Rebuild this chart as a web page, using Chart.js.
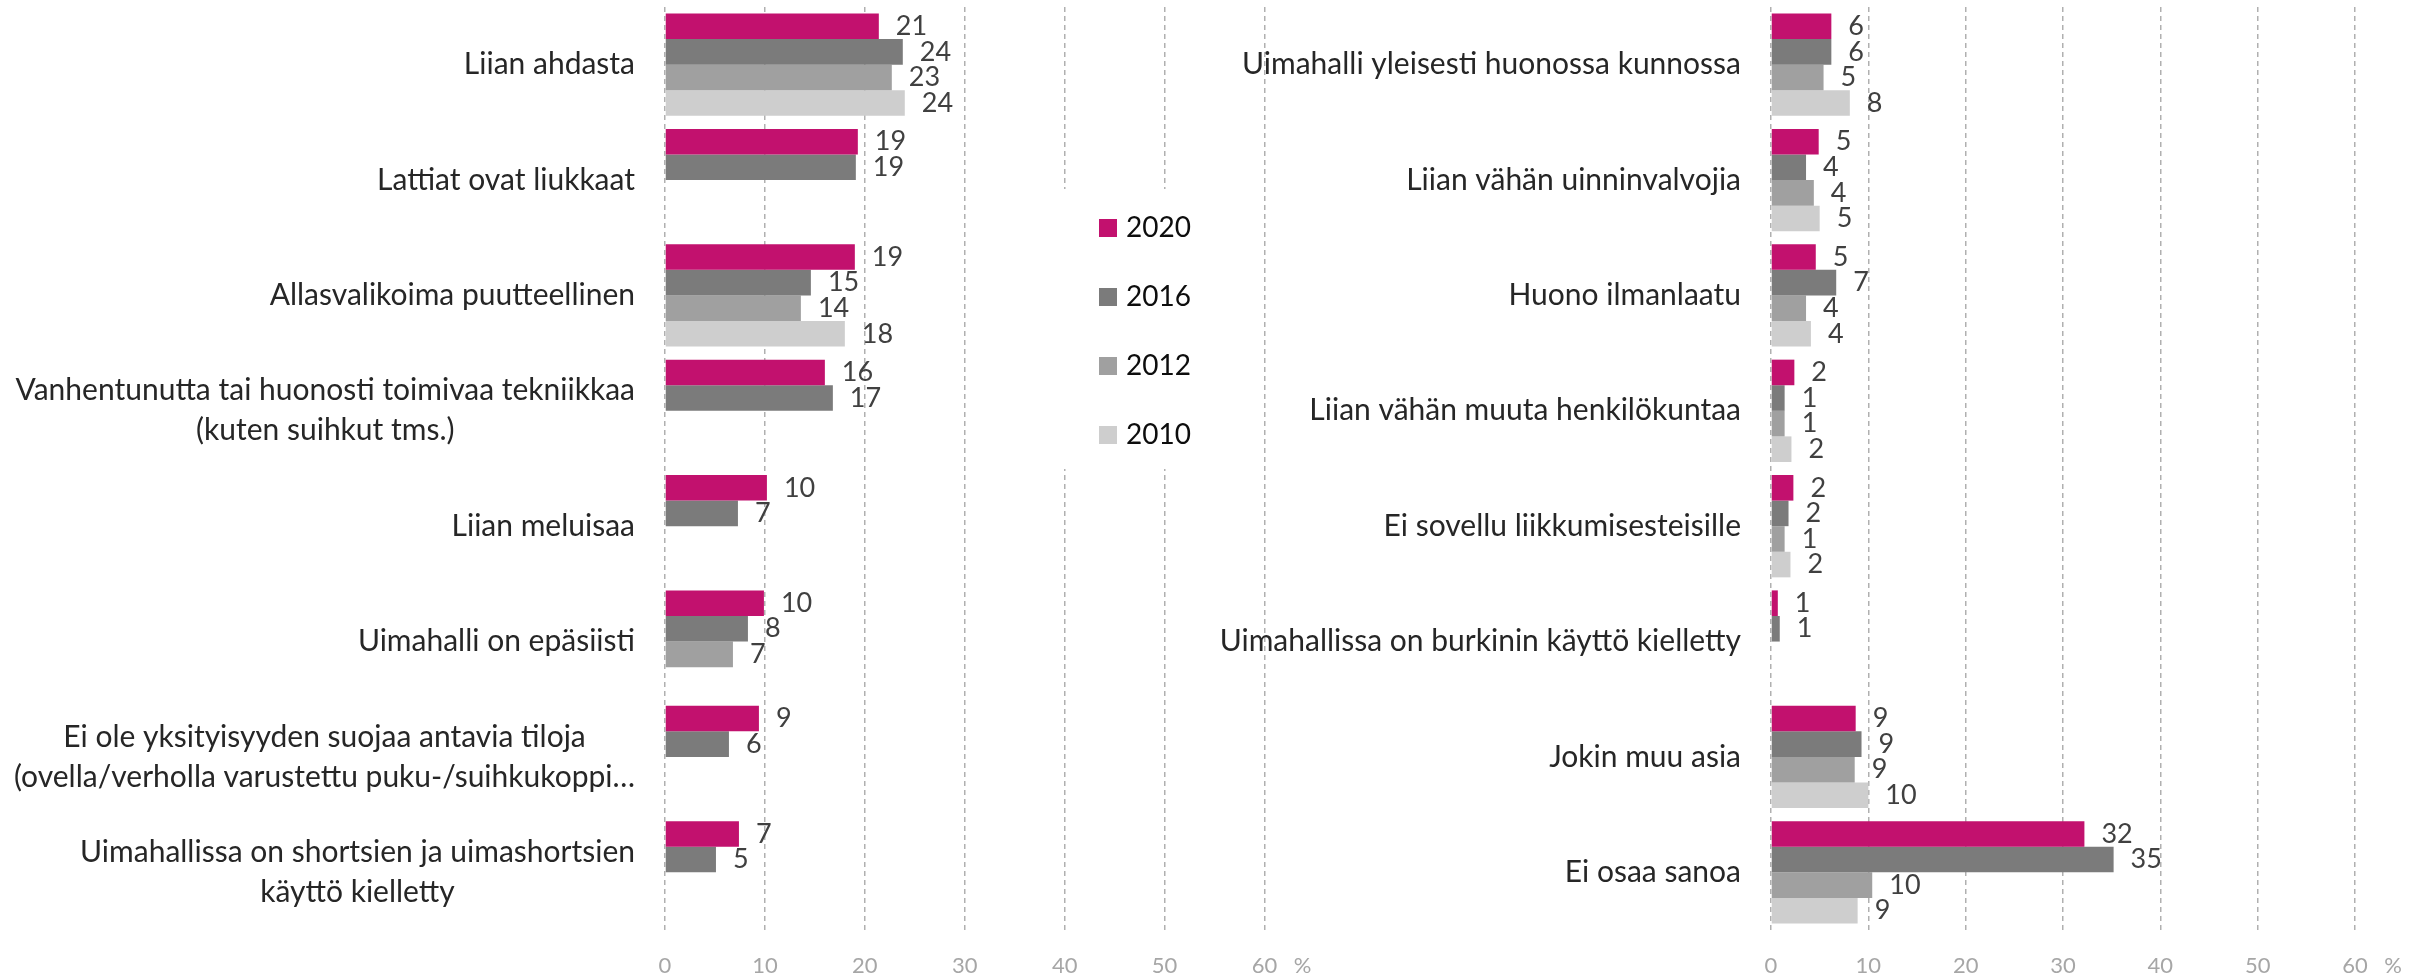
<!DOCTYPE html>
<html lang="fi">
<head>
<meta charset="utf-8">
<title>Uimahallien puutteet</title>
<script src="https://cdn.jsdelivr.net/npm/chart.js@4.4.1/dist/chart.umd.min.js"></script>
<style>
    html, body { margin: 0; padding: 0; background: #ffffff; }
    body { width: 2425px; height: 980px; position: relative; overflow: hidden; }
    canvas { position: absolute; top: 0; }
    #leftChart { left: 0; }
    #rightChart { left: 1200px; }
</style>
</head>
<body>
<canvas id="leftChart" width="1340" height="980"></canvas>
<canvas id="rightChart" width="1225" height="980"></canvas>
<script>
// Vuodet ja värit
const years = ["2020", "2016", "2012", "2010"];
const yearColors = ["#C2116E", "#7B7B7B", "#A0A0A0", "#CECECE"];

// x-akselin jaot (%)
const xTicks = [0, 10, 20, 30, 40, 50, 60];
const unitLabel = "%";

// Vasen paneeli
const leftLabels = [
    ["Liian ahdasta"],
    ["Lattiat ovat liukkaat"],
    ["Allasvalikoima puutteellinen"],
    ["Vanhentunutta tai huonosti toimivaa tekniikkaa", "(kuten suihkut tms.)"],
    ["Liian meluisaa"],
    ["Uimahalli on epäsiisti"],
    ["Ei ole yksityisyyden suojaa antavia tiloja", "(ovella/verholla varustettu puku-/suihkukoppi…"],
    ["Uimahallissa on shortsien ja uimashortsien", "käyttö kielletty"]
];
const left2020 = [21.4, 19.3, 19.0, 16.0, 10.2, 9.9, 9.4, 7.4];
const left2016 = [23.8, 19.1, 14.6, 16.8, 7.3, 8.3, 6.4, 5.1];
const left2012 = [22.7, null, 13.6, null, null, 6.8, null, null];
const left2010 = [24.0, null, 18.0, null, null, null, null, null];

// Oikea paneeli
const rightLabels = [
    ["Uimahalli yleisesti huonossa kunnossa"],
    ["Liian vähän uinninvalvojia"],
    ["Huono ilmanlaatu"],
    ["Liian vähän muuta henkilökuntaa"],
    ["Ei sovellu liikkumisesteisille"],
    ["Uimahallissa on burkinin käyttö kielletty"],
    ["Jokin muu asia"],
    ["Ei osaa sanoa"]
];
const right2020 = [6.2, 4.9, 4.6, 2.4, 2.3, 0.7, 8.7, 32.2];
const right2016 = [6.2, 3.6, 6.7, 1.4, 1.8, 0.9, 9.3, 35.2];
const right2012 = [5.4, 4.4, 3.6, 1.4, 1.4, null, 8.6, 10.4];
const right2010 = [8.1, 5.0, 4.1, 2.1, 2.0, null, 10.0, 8.9];

const FONT = "Lato, 'Open Sans', sans-serif";

// Kategorioiden nimet: rivit keskitetään lohkona, lohko tasataan akselia vasten
const categoryLabelPlugin = {
    id: "categoryLabels",
    afterDraw(chart) {
        const ctx = chart.ctx;
        const yScale = chart.scales.y;
        const right = chart.chartArea.left - 30;
        ctx.save();
        ctx.font = "30px " + FONT;
        ctx.fillStyle = "#262626";
        ctx.textAlign = "center";
        ctx.textBaseline = "middle";
        chart.data.labels.forEach(function(lines, i) {
            const y = yScale.getPixelForTick(i);
            const w = Math.max.apply(null, lines.map(l => ctx.measureText(l).width));
            const cx = right - w / 2;
            lines.forEach(function(line, j) {
                ctx.fillText(line, cx, y + (j - (lines.length - 1) / 2) * 40);
            });
        });
        ctx.restore();
    }
};

// Arvot palkkien perään
const valueLabelPlugin = {
    id: "valueLabels",
    afterDatasetsDraw(chart) {
        const ctx = chart.ctx;
        ctx.save();
        ctx.font = "27px " + FONT;
        ctx.fillStyle = "#404040";
        ctx.textAlign = "left";
        ctx.textBaseline = "middle";
        chart.data.datasets.forEach(function(ds, di) {
            const meta = chart.getDatasetMeta(di);
            meta.data.forEach(function(bar, i) {
                const v = ds.data[i];
                if (v === null || v === undefined) return;
                ctx.fillText(String(Math.round(v)), bar.x + 17, bar.y);
            });
        });
        ctx.restore();
    }
};

// "%" viimeisen jaon perään
const unitPlugin = {
    id: "unitLabel",
    afterDraw(chart) {
        const ctx = chart.ctx;
        const xScale = chart.scales.x;
        ctx.save();
        ctx.font = "22px " + FONT;
        ctx.fillStyle = "#A6A6A6";
        ctx.textAlign = "center";
        ctx.textBaseline = "middle";
        ctx.fillText(unitLabel, xScale.getPixelForValue(xTicks[xTicks.length - 1]) + 38, 966);
        ctx.restore();
    }
};

// Selite paneelien välissä (valkoinen tausta katkaisee apuviivat)
const yearLegendPlugin = {
    id: "yearLegend",
    afterDraw(chart) {
        const ctx = chart.ctx;
        ctx.save();
        ctx.fillStyle = "#ffffff";
        ctx.fillRect(1040, 189, 190, 280);
        ctx.font = "28px " + FONT;
        ctx.textAlign = "left";
        ctx.textBaseline = "middle";
        years.forEach(function(year, i) {
            const top = 219 + i * 69;
            ctx.fillStyle = yearColors[i];
            ctx.fillRect(1099, top, 18, 18);
            ctx.fillStyle = "#0D0D0D";
            ctx.fillText(year, 1126, top + 9);
        });
        ctx.restore();
    }
};

function makeChart(canvasId, labels, series, axisWidth, padRight, extraPlugins) {
    const datasets = series.map(function(values, i) {
        return {
            label: years[i],
            data: values,
            backgroundColor: yearColors[i],
            borderWidth: 0,
            categoryPercentage: 0.887,
            barPercentage: 1.0
        };
    });
    return new Chart(document.getElementById(canvasId), {
        type: "bar",
        data: { labels: labels, datasets: datasets },
        options: {
            indexAxis: "y",
            responsive: false,
            animation: false,
            devicePixelRatio: 1,
            layout: { padding: { top: 7, right: padRight, bottom: 0, left: 0 } },
            plugins: {
                legend: { display: false },
                tooltip: { enabled: false }
            },
            scales: {
                x: {
                    min: xTicks[0],
                    max: xTicks[xTicks.length - 1],
                    ticks: {
                        stepSize: xTicks[1] - xTicks[0],
                        color: "#A6A6A6",
                        font: { family: FONT, size: 22 },
                        padding: 23
                    },
                    grid: { color: "#B0B0B0", lineWidth: 1.5, drawTicks: false },
                    border: { display: false, dash: [5, 4] },
                    afterFit: function(scale) { scale.height = 50; }
                },
                y: {
                    ticks: { display: false },
                    grid: { display: false },
                    border: { display: false },
                    afterFit: function(scale) { scale.width = axisWidth; }
                }
            }
        },
        plugins: [categoryLabelPlugin, valueLabelPlugin, unitPlugin].concat(extraPlugins)
    });
}

document.addEventListener("DOMContentLoaded", function() {
    makeChart("leftChart", leftLabels, [left2020, left2016, left2012, left2010], 665, 75.5, [yearLegendPlugin]);
    makeChart("rightChart", rightLabels, [right2020, right2016, right2012, right2010], 571, 70, []);
});
</script>
</body>
</html>
